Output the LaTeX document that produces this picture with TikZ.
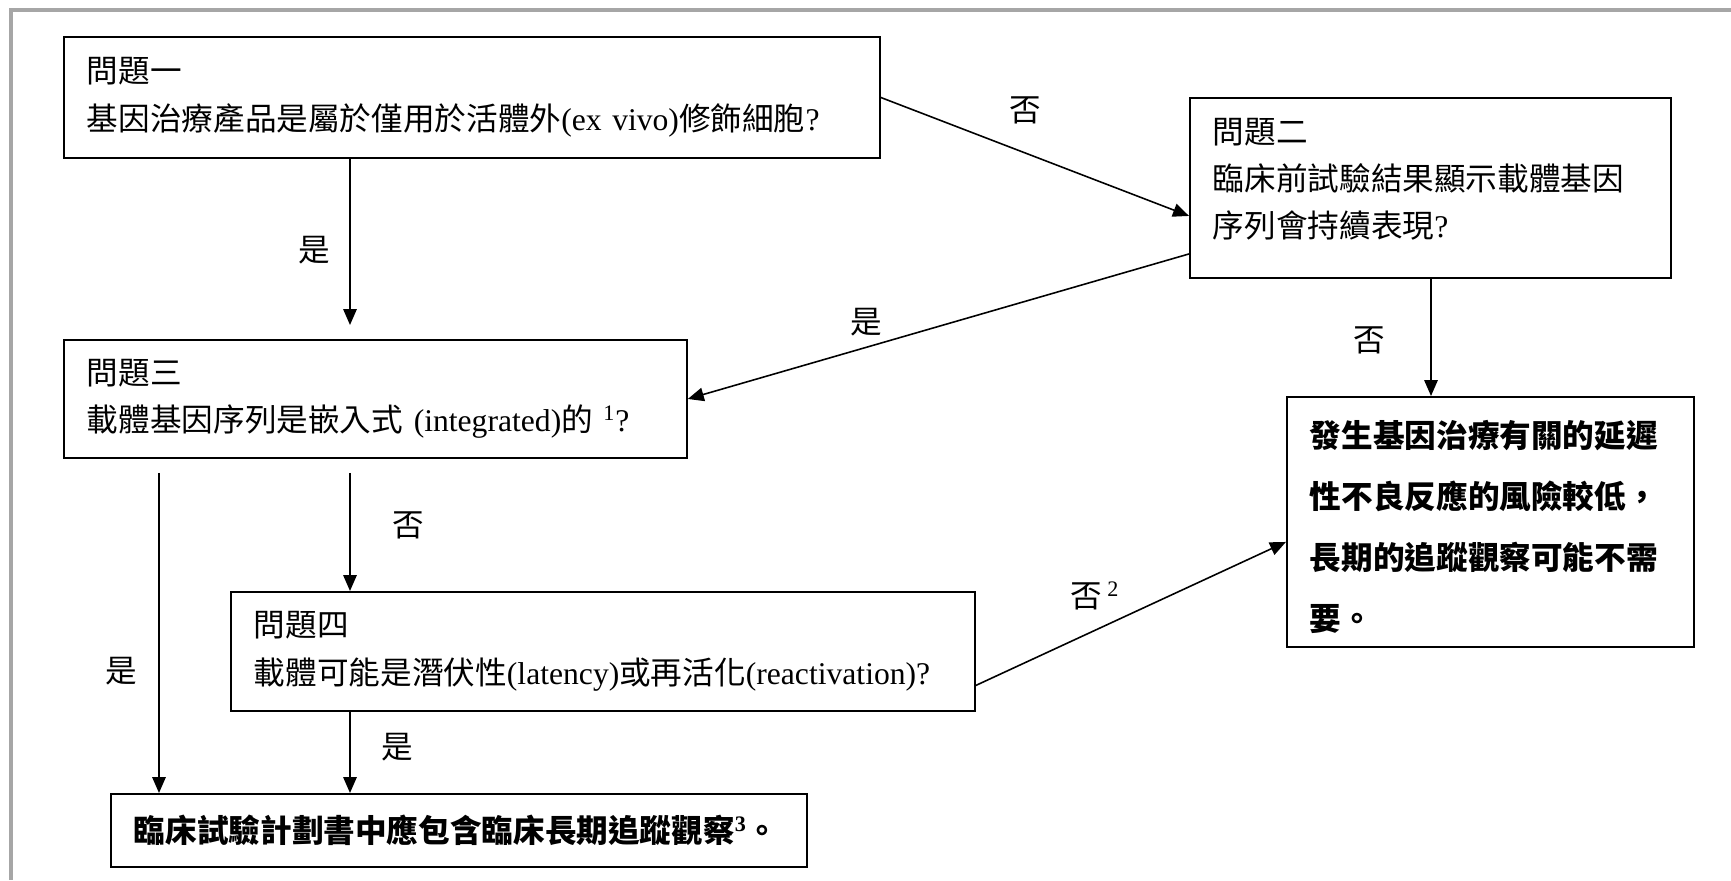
\documentclass[tikz,border=0pt]{standalone}
\usepackage{fontspec}
\setmainfont{Liberation Serif}
\newfontfamily\cjk{Noto Sans CJK TC}
\usetikzlibrary{arrows.meta}
\usetikzlibrary{positioning}

\newcommand{\lat}[1]{{\rmfamily #1}}

\begin{document}
\begin{tikzpicture}[x=0.02cm,y=-0.02cm,
    qbox/.style={draw,line width=1.1pt,anchor=north west,align=left,
        inner xsep=0.46cm,inner ysep=0pt,
        font=\cjk\fontsize{18pt}{27pt}\selectfont},
    ansbox/.style={qbox,font=\cjk\bfseries\fontsize{18pt}{34.7pt}\selectfont},
    arr/.style={line width=0.9pt,-{Triangle[length=0.32cm,width=0.27cm]}},
    lbl/.style={font=\cjk\fontsize{18pt}{27pt}\selectfont}]
    \useasboundingbox (0,0) rectangle (1731,880);
    \draw[gray!70,line width=2.5pt] (11,880) -- (11,10) -- (1731,10);

    % questions
    \node[qbox,text width=15.4cm,minimum height=2.42cm] (q1) at (63,36)
        {問題一\\基因治療產品是屬於僅用於活體外\lat{(ex vivo)}修飾細胞\lat{?}};
    \node[qbox,text width=8.7cm,minimum height=3.6cm,text depth=2.3cm] (q2) at (1189,97)
        {問題二\\臨床前試驗結果顯示載體基因\\序列會持續表現\lat{?}};
    \node[qbox,text width=11.54cm,minimum height=2.36cm] (q3) at (63,339)
        {問題三\\載體基因序列是嵌入式\lat{ (integrated)}的\lat{ \textsuperscript{1}?}};
    \node[qbox,text width=13.96cm,minimum height=2.38cm] (q4) at (230,591)
        {問題四\\載體可能是潛伏性\lat{(latency)}或再活化\lat{(reactivation)?}};
    % answers
    \node[ansbox,text width=7.22cm,minimum height=5cm,text height=0.75cm] (low) at (1286,396)
        {發生基因治療有關的延遲\\性不良反應的風險較低，\\長期的追蹤觀察可能不需\\要。};
    \node[ansbox,text width=13cm,minimum height=1.46cm] (ltfu) at (110,793)
        {臨床試驗計劃書中應包含臨床長期追蹤觀察\lat{\textsuperscript{3}}。};

    % connectors
    \draw[arr] (q1.east) -- ([yshift=-0.56cm]q2.west);
    \node[lbl] at (1025,110) {否};
    \draw[arr] (q1.south -| 350,0) -- ([yshift=0.28cm]q3.north -| 350,0);
    \node[lbl] at (314,250) {是};
    \draw[arr] ([yshift=-1.32cm]q2.west) -- (q3.east);
    \node[lbl] at (866,322) {是};
    \draw[arr] (q2.south -| 1431,0) -- (low.north -| 1431,0);
    \node[lbl] at (1369,340) {否};
    \draw[arr,shorten <=0.28cm] (q3.south -| 350,0) -- (q4.north -| 350,0);
    \node[lbl] at (408,525) {否};
    \draw[arr,shorten <=0.28cm] (q3.south -| 159,0) -- (ltfu.north -| 159,0);
    \node[lbl] at (121,671) {是};
    \draw[arr] (q4.south -| 350,0) -- (ltfu.north -| 350,0);
    \node[lbl] at (397,747) {是};
    \draw[arr] ([yshift=-0.68cm]q4.east) -- ([yshift=-0.4cm]low.west);
    \node[lbl] at (1095,596) {否\,\lat{\textsuperscript{2}}};
\end{tikzpicture}
\end{document}
